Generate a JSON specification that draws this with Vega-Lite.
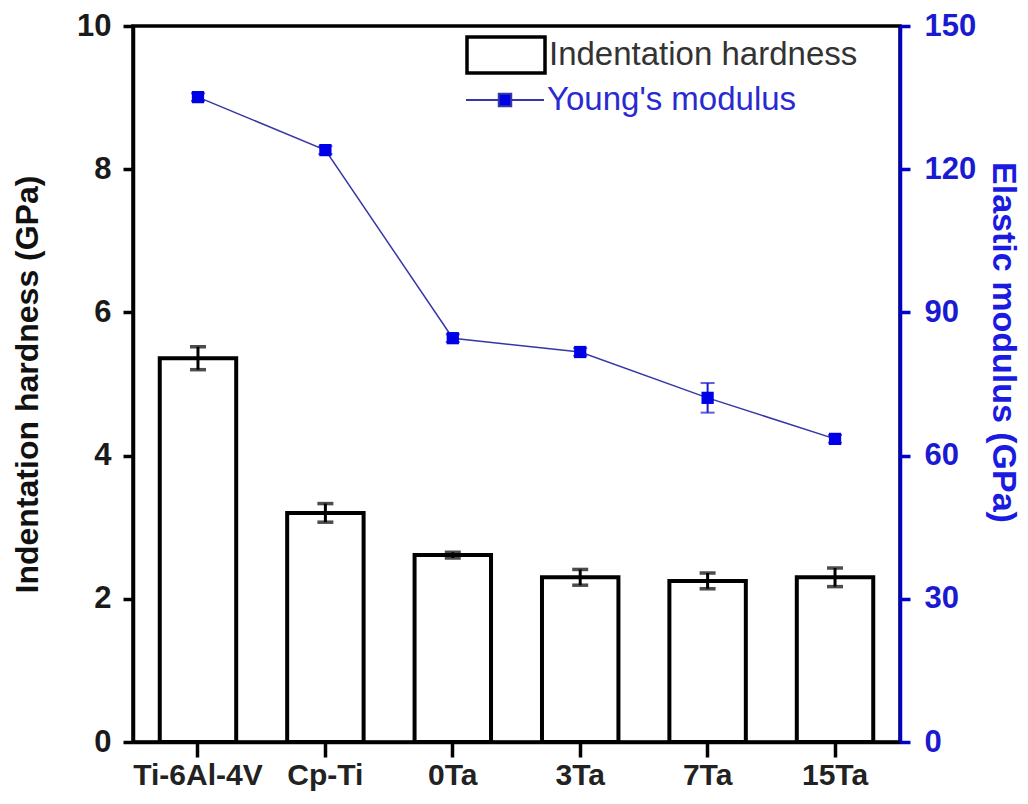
{
  "$schema": "https://vega.github.io/schema/vega-lite/v6.json",
  "width": 767,
  "height": 716,
  "autosize": {"type": "none"},
  "padding": {"left": 133, "top": 26, "right": 128, "bottom": 62},
  "background": "white",
  "config": {
    "view": {"stroke": "black", "strokeWidth": 3.5},
    "font": "Liberation Sans"
  },
  "data": {
    "values": [
      {"alloy": "Ti-6Al-4V", "h": 5.36, "he": 0.16, "m": 135.1, "me": 0.8},
      {"alloy": "Cp-Ti", "h": 3.2, "he": 0.13, "m": 124.0, "me": 0.8},
      {"alloy": "0Ta", "h": 2.61, "he": 0.04, "m": 84.6, "me": 0.8},
      {"alloy": "3Ta", "h": 2.3, "he": 0.11, "m": 81.7, "me": 0.8},
      {"alloy": "7Ta", "h": 2.25, "he": 0.11, "m": 72.1, "me": 3.1},
      {"alloy": "15Ta", "h": 2.3, "he": 0.13, "m": 63.5, "me": 0.8}
    ]
  },
  "encoding": {
    "x": {
      "field": "alloy",
      "type": "nominal",
      "sort": null,
      "scale": {"paddingInner": 0.4, "paddingOuter": 0.21},
      "axis": {
        "title": null,
        "labelAngle": 0,
        "labelFont": "Liberation Sans",
        "labelFontSize": 30,
        "labelFontWeight": "bold",
        "labelColor": "#222222",
        "labelPadding": 3,
        "domainColor": "black",
        "domainWidth": 3.5,
        "tickColor": "black",
        "tickWidth": 3.5,
        "tickSize": 15
      }
    }
  },
  "layer": [
    {
      "layer": [
        {
          "mark": {"type": "bar", "fill": "white", "strokeWidth": 4},
          "encoding": {
            "y": {
              "field": "h",
              "type": "quantitative",
              "title": "Indentation hardness (GPa)",
              "scale": {"domain": [0, 10], "nice": false},
              "axis": {
                "orient": "left",
                "values": [0, 2, 4, 6, 8, 10],
                "format": "d",
                "grid": false,
                "domainColor": "black",
                "domainWidth": 3.5,
                "tickColor": "black",
                "tickWidth": 3.5,
                "tickSize": 10,
                "labelFont": "Liberation Sans",
                "labelFontSize": 31,
                "labelFontWeight": "bold",
                "labelColor": "#1a1a1a",
                "labelPadding": 12,
                "titleFont": "Liberation Sans",
                "titleFontSize": 32,
                "titleFontWeight": "bold",
                "titleColor": "#111111",
                "titlePadding": 32
              }
            },
            "stroke": {
              "datum": "Indentation hardness",
              "scale": {"range": ["black"]},
              "legend": {
                "title": null,
                "orient": "none",
                "legendX": 332,
                "legendY": -12,
                "padding": 0,
                "symbolType": "M-1,-0.46H1V0.46H-1Z",
                "symbolSize": 6084,
                "symbolFillColor": "white",
                "symbolStrokeColor": "black",
                "symbolStrokeWidth": 3.5,
                "labelFont": "Liberation Sans",
                "labelFontSize": 33,
                "labelLimit": 0,
                "labelColor": "#333333",
                "labelOffset": 2
              }
            }
          }
        },
        {
          "mark": {
            "type": "errorbar",
            "ticks": {"size": 16, "thickness": 3.5, "color": "black"},
            "rule": {"strokeWidth": 3, "color": "black"}
          },
          "encoding": {
            "y": {"field": "h", "type": "quantitative", "title": "Indentation hardness (GPa)"},
            "yError": {"field": "he"}
          }
        }
      ]
    },
    {
      "layer": [
        {
          "mark": {"type": "line", "color": "#3636a8", "strokeWidth": 1.5},
          "encoding": {
            "y": {
              "field": "m",
              "type": "quantitative",
              "title": "Elastic modulus (GPa)",
              "scale": {"domain": [0, 150], "nice": false},
              "axis": {
                "orient": "right",
                "values": [0, 30, 60, 90, 120, 150],
                "grid": false,
                "domainColor": "#0000cc",
                "domainWidth": 3.5,
                "tickColor": "#0000cc",
                "tickWidth": 3.5,
                "tickSize": 10,
                "labelFont": "Liberation Sans",
                "labelFontSize": 31,
                "labelFontWeight": "bold",
                "labelColor": "#1a1ad0",
                "labelPadding": 14,
                "titleFont": "Liberation Sans",
                "titleFontSize": 34,
                "titleFontWeight": "bold",
                "titleColor": "#1a1ae0",
                "titleBaseline": "middle",
                "titleX": 102,
                "titleY": 316
              }
            }
          }
        },
        {
          "mark": {
            "type": "errorbar",
            "ticks": {"size": 14, "thickness": 2, "color": "#1a1ad0"},
            "rule": {"strokeWidth": 2, "color": "#1a1ad0"}
          },
          "encoding": {
            "y": {"field": "m", "type": "quantitative", "title": "Elastic modulus (GPa)"},
            "yError": {"field": "me"}
          }
        },
        {
          "mark": {"type": "point", "shape": "square", "filled": true, "size": 150, "opacity": 1},
          "encoding": {
            "y": {"field": "m", "type": "quantitative", "title": "Elastic modulus (GPa)"},
            "color": {
              "datum": "Young's modulus",
              "scale": {"range": ["#0000e6"]},
              "legend": {
                "title": null,
                "orient": "none",
                "legendX": 332,
                "legendY": 34,
                "padding": 0,
                "symbolType": "M-1,0H-0.16M0.16,0H1M-0.16,-0.16H0.16V0.16H-0.16Z",
                "symbolSize": 6084,
                "symbolFillColor": "#0000e6",
                "symbolStrokeColor": "#3636a8",
                "symbolStrokeWidth": 2,
                "symbolOpacity": 1,
                "labelFont": "Liberation Sans",
                "labelFontSize": 33,
                "labelLimit": 0,
                "labelColor": "#2a2ad0",
                "labelOffset": 2
              }
            }
          }
        }
      ]
    }
  ],
  "resolve": {"scale": {"y": "independent"}}
}
